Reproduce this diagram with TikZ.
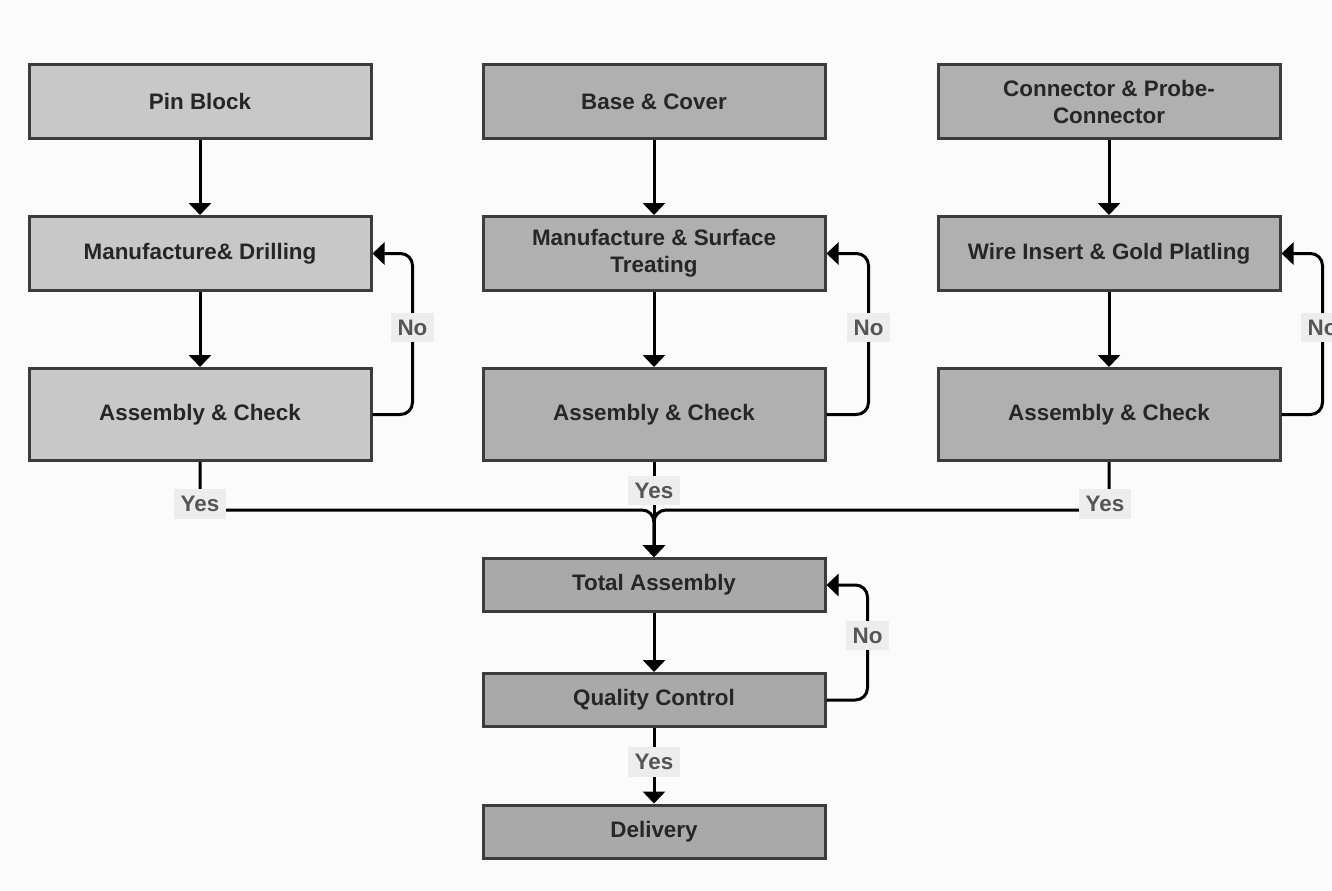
\documentclass[tikz,border=0pt]{standalone}
\usepackage{fontspec}
\setmainfont{Liberation Sans}
\usetikzlibrary{arrows.meta}

\definecolor{paper}{HTML}{FBFBFB}
\definecolor{boxlight}{HTML}{C8C8C8}
\definecolor{boxdark}{HTML}{B0B0B0}
\definecolor{boxdeep}{HTML}{A9A9A9}
\definecolor{boxedge}{HTML}{3C3C3C}
\definecolor{tagfill}{HTML}{EDEDED}
\definecolor{tagtext}{HTML}{555555}

\begin{document}
\begin{tikzpicture}[x=0.5pt,y=-0.5pt,
    stage/.style={draw=boxedge, line width=1.5pt, fill=boxdark, minimum width=171pt,
        minimum height=37pt, inner sep=0pt, align=center, text=black!85,
        font=\fontsize{11.2}{13.5}\selectfont\bfseries},
    firstcol/.style={fill=boxlight},
    check/.style={minimum height=46pt},
    final/.style={fill=boxdeep, minimum height=26.5pt},
    flow/.style={draw=black, line width=1.5pt, -{Triangle[width=11pt,length=6pt]}},
    answer/.style={fill=tagfill, text=tagtext, inner sep=3.5pt, sharp corners,
        font=\fontsize{11.2}{13.5}\selectfont\bfseries}]

    % paper
    \fill[paper] (0,0) rectangle (1332,890);
    \useasboundingbox (0,0) rectangle (1332,890);

    % pin block column
    \node[stage, firstcol] (pb) at (200,101.5) {Pin Block};
    \node[stage, firstcol] (m1) at (200,253.5) {Manufacture\& Drilling};
    \node[stage, firstcol, check] (a1) at (200,414.5) {Assembly \& Check};

    % base & cover column
    \node[stage] (bc) at (654,101.5) {Base \& Cover};
    \node[stage] (m2) at (654,253.5) {Manufacture \& Surface\\Treating};
    \node[stage, check] (a2) at (654,414.5) {Assembly \& Check};

    % connector column
    \node[stage] (cp) at (1109,101.5) {Connector \& Probe-\\Connector};
    \node[stage] (m3) at (1109,253.5) {Wire Insert \& Gold Platling};
    \node[stage, check] (a3) at (1109,414.5) {Assembly \& Check};

    % final line
    \node[stage, final] (ta) at (654,585) {Total Assembly};
    \node[stage, final] (qc) at (654,700) {Quality Control};
    \node[stage, final] (dl) at (654,831.5) {Delivery};
    \coordinate (join) at (654,510);

    % downward flow
    \draw[flow] (pb.south) -- (m1.north);
    \draw[flow] (m1.south) -- (a1.north);
    \draw[flow] (bc.south) -- (m2.north);
    \draw[flow] (m2.south) -- (a2.north);
    \draw[flow] (cp.south) -- (m3.north);
    \draw[flow] (m3.south) -- (a3.north);
    \draw[flow] (ta.south) -- (qc.north);

    % rework loops
    \draw[flow, rounded corners=6pt] (a1.east) -- ++(40,0) |- node[answer, pos=0.27] {No} (m1.east);
    \draw[flow, rounded corners=6pt] (a2.east) -- ++(42,0) |- node[answer, pos=0.27] {No} (m2.east);
    \draw[flow, rounded corners=6pt] (a3.east) -- ++(41,0) |- node[answer, pos=0.27] {No} (m3.east);
    \draw[flow, rounded corners=6pt] (qc.east) -- ++(41,0) |- node[answer, pos=0.28] {No} (ta.east);

    % passed parts go to total assembly
    \draw[flow, rounded corners=6pt] (a1.south) |- node[answer, pos=0.5, yshift=3pt] {Yes} (join) -- (ta.north);
    \draw[flow, rounded corners=6pt] (a3.south) |- node[answer, pos=0.5, xshift=-2pt, yshift=3pt] {Yes} (join) -- (ta.north);
    \draw[flow] (a2.south) -- node[answer, pos=0.3] {Yes} (ta.north);
    \draw[flow] (qc.south) -- node[answer, pos=0.45] {Yes} (dl.north);
\end{tikzpicture}
\end{document}
